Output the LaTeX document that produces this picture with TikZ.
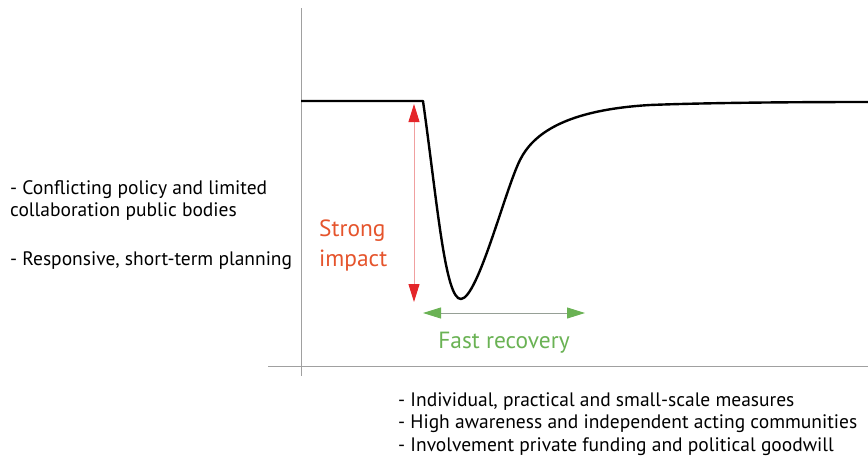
\documentclass[tikz,border=0pt]{standalone}
\usepackage{fontspec}
\setmainfont{PT Sans}
\usepackage{tikz}
\usetikzlibrary{arrows.meta,positioning}
\definecolor{AxisGray}{RGB}{160,160,160}
\definecolor{ImpactRed}{RGB}{228,38,42}
\definecolor{ImpactPink}{RGB}{240,160,160}
\definecolor{ImpactText}{RGB}{229,84,44}
\definecolor{RecoveryGreen}{RGB}{106,178,84}
\definecolor{ShaftGray}{RGB}{150,160,150}

\tikzset{
  axisline/.style={AxisGray,line width=0.8pt},
  curveline/.style={black,line width=2.4pt,line join=round},
  impactarrow/.style={ImpactPink,line width=1pt,
    {Triangle[length=18pt,width=11pt,color=ImpactRed]}-{Triangle[length=18pt,width=11pt,color=ImpactRed]}},
  recoveryarrow/.style={ShaftGray,line width=1pt,
    {Triangle[length=18pt,width=11pt,color=RecoveryGreen]}-{Triangle[length=18pt,width=11pt,color=RecoveryGreen]}},
  bodytext/.style={font=\fontsize{19.5}{22.7}\selectfont,align=left,inner sep=0pt},
  bigtext/.style={font=\fontsize{23.4}{30}\selectfont,align=left,inner sep=0pt}
}

\begin{document}
\begin{tikzpicture}[x=1pt,y=-1pt,>=Latex]
      \useasboundingbox (0,0) rectangle (868,461);
      % axes
      \draw[axisline] (301,8)--(301,376);
      \draw[axisline] (268,366)--(868,366);
      % resilience curve
      \draw[curveline] (301,101)--(423,101)
        .. controls (437,200) and (445,300) .. (461,299)
        .. controls (478,298) and (505,190) .. (520,160)
        .. controls (533,134) and (565,110) .. (650,105)
        .. controls (700,103) and (780,102) .. (868,102);
      % arrows
      \coordinate (impacttop) at (414,104);
      \coordinate (impactbot) at (414,302);
      \draw[impactarrow] (impacttop)--(impactbot);
      \coordinate (recleft) at (423,313);
      \coordinate (recright) at (585,313);
      \draw[recoveryarrow] (recleft)--(recright);
      % labels
      \node[bigtext,ImpactText,anchor=north west] (impact) at (319,220)
        {Strong\\impact};
      \node[bigtext,RecoveryGreen,anchor=north] (recovery) at (504,332)
        {Fast recovery};
      \node[bodytext,anchor=north west] (before) at (10,180)
        {- Conflicting policy and limited\\collaboration public bodies\\[26pt]- Responsive, short-term planning};
      \node[bodytext,anchor=north west] (after) at (398,392)
        {- Individual, practical and small-scale measures\\- High awareness and independent acting communities\\- Involvement private funding and political goodwill};
    \end{tikzpicture}
\end{document}
